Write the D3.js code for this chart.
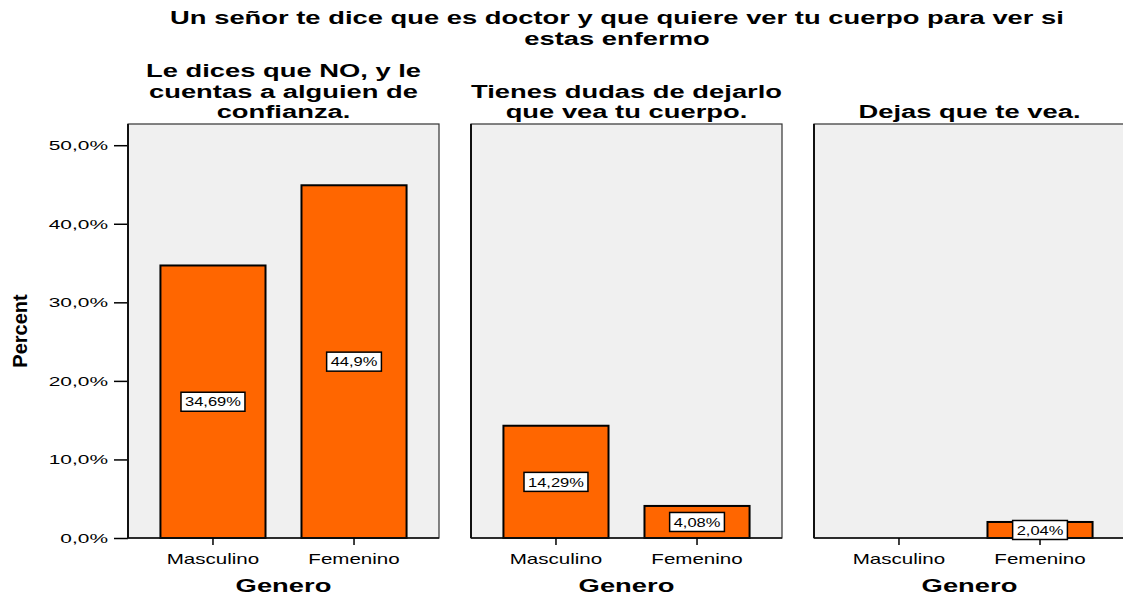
<!DOCTYPE html>
<html>
<head>
<meta charset="utf-8">
<script src="https://cdn.jsdelivr.net/npm/d3@7"></script>
<style>
  body { margin: 0; background: #fff; }
  svg { display: block; font-family: Arial, "Liberation Sans", sans-serif; }
</style>
</head>
<body>
<script>
const chartTitle = ["Un señor te dice que es doctor y que quiere ver tu cuerpo para ver si", "estas enfermo"]
const panelTitles = [
  ["Le dices que NO, y le", "cuentas a alguien de", "confianza."],
  ["Tienes dudas de dejarlo", "que vea tu cuerpo."],
  ["Dejas que te vea."]
]
const generos = ["Masculino", "Femenino"]
const masculino = [34.69, 14.29, 0]
const femenino = [44.9, 4.08, 2.04]
const yTicks = [0, 10, 20, 30, 40, 50]

const width = 1123
const height = 595

const svg = d3.select('body').append('svg')
  .attr('width', width)
  .attr('height', height)

const panelW = 311
const panelLefts = [128, 471, 814]
const plotTop = 124
const plotBottom = 538

// the original export draws its text stretched sideways
const wide = 1.44

const y = d3.scaleLinear().domain([0, 52.7]).range([plotBottom, plotTop])
const x = d3.scaleBand().domain(generos).range([0, panelW]).paddingInner(0.255).paddingOuter(0.23)

const fmt = v => String(v).replace('.', ',') + '%'

// main title
svg.append('g').selectAll('text')
  .data(chartTitle)
  .enter().append('text')
  .attr('transform', (d, i) => `translate(617,${24 + i * 21}) scale(${wide},1)`)
  .attr('text-anchor', 'middle')
  .style('font-size', '19px')
  .style('font-weight', 'bold')
  .text(d => d)

// y axis title
svg.append('text')
  .attr('transform', `translate(27,${(plotTop + plotBottom) / 2}) rotate(-90)`)
  .attr('text-anchor', 'middle')
  .style('font-family', '"Liberation Sans Narrow", "Arial Narrow", Arial, sans-serif')
  .style('font-stretch', 'condensed')
  .style('font-size', '20px')
  .style('font-weight', 'bold')
  .text('Percent')

// y axis on first panel
const yAxis = svg.append('g')
  .attr('transform', `translate(${panelLefts[0]},0)`)
  .call(d3.axisLeft(y).tickValues(yTicks).tickSize(14).tickPadding(5)
    .tickFormat(d => d3.format('.1f')(d).replace('.', ',') + '%'))
yAxis.select('.domain').remove()
yAxis.selectAll('line').attr('stroke', '#000').attr('stroke-width', 1.5)
yAxis.selectAll('text')
  .attr('x', 0)
  .attr('transform', 'translate(-20,0) scale(1.55,1)')
  .style('font-size', '13.5px')
  .attr('fill', '#000')

panelTitles.forEach((lines, p) => {
  const g = svg.append('g').attr('transform', `translate(${panelLefts[p]},0)`)

  g.append('rect')
    .attr('x', 0).attr('y', plotTop)
    .attr('width', panelW).attr('height', plotBottom - plotTop)
    .attr('fill', '#f0f0f0')
    .attr('stroke', '#333')
    .attr('stroke-width', 1.2)

  g.append('line')
    .attr('x1', 0).attr('x2', 0).attr('y1', plotTop).attr('y2', plotBottom)
    .attr('stroke', '#111').attr('stroke-width', 2)

  // panel title
  g.append('g').selectAll('text')
    .data(lines)
    .enter().append('text')
    .attr('transform', (d, i) => `translate(${panelW / 2},${118 - (lines.length - 1 - i) * 20.5}) scale(${wide},1)`)
    .attr('text-anchor', 'middle')
    .style('font-size', '19px')
    .style('font-weight', 'bold')
    .text(d => d)

  const vals = [masculino[p], femenino[p]]
  const data = generos.map((gname, i) => ({ gname, v: vals[i] }))

  g.append('g').selectAll('rect')
    .data(data.filter(d => d.v > 0))
    .enter().append('rect')
    .attr('x', d => x(d.gname))
    .attr('y', d => y(d.v))
    .attr('width', x.bandwidth())
    .attr('height', d => y(0) - y(d.v))
    .attr('fill', '#ff6600')
    .attr('stroke', '#000')
    .attr('stroke-width', 2)

  // x axis
  const xAxis = g.append('g')
    .attr('transform', `translate(0,${plotBottom})`)
    .call(d3.axisBottom(x).tickSize(7).tickPadding(8))
  xAxis.select('.domain').attr('d', `M0,0H${panelW}`).attr('stroke', '#111').attr('stroke-width', 1.5)
  xAxis.selectAll('line').attr('stroke', '#000').attr('stroke-width', 1.5)
  xAxis.selectAll('text')
    .attr('transform', 'scale(1.37,1)')
    .style('font-size', '15px')
    .attr('fill', '#000')

  g.append('text')
    .attr('transform', `translate(${panelW / 2},592) scale(${wide},1)`)
    .attr('text-anchor', 'middle')
    .style('font-size', '19px')
    .style('font-weight', 'bold')
    .text('Genero')

  // value labels
  const labelScale = 1.27
  const labels = g.append('g').selectAll('g')
    .data(data.filter(d => d.v > 0))
    .enter().append('g')
    .attr('transform', d => `translate(${x(d.gname) + x.bandwidth() / 2},${(y(d.v) + y(0)) / 2})`)
  labels.append('text')
    .attr('transform', `scale(${labelScale},1)`)
    .attr('text-anchor', 'middle')
    .attr('dy', '0.36em')
    .style('font-size', '13px')
    .text(d => fmt(d.v))
  labels.each(function() {
    const t = d3.select(this).select('text')
    const w = t.node().getBBox().width * labelScale
    d3.select(this).insert('rect', 'text')
      .attr('x', -w / 2 - 4).attr('y', -9.5)
      .attr('width', w + 8).attr('height', 19)
      .attr('fill', '#fff')
      .attr('stroke', '#000')
      .attr('stroke-width', 1.5)
  })
})
</script>
</body>
</html>
